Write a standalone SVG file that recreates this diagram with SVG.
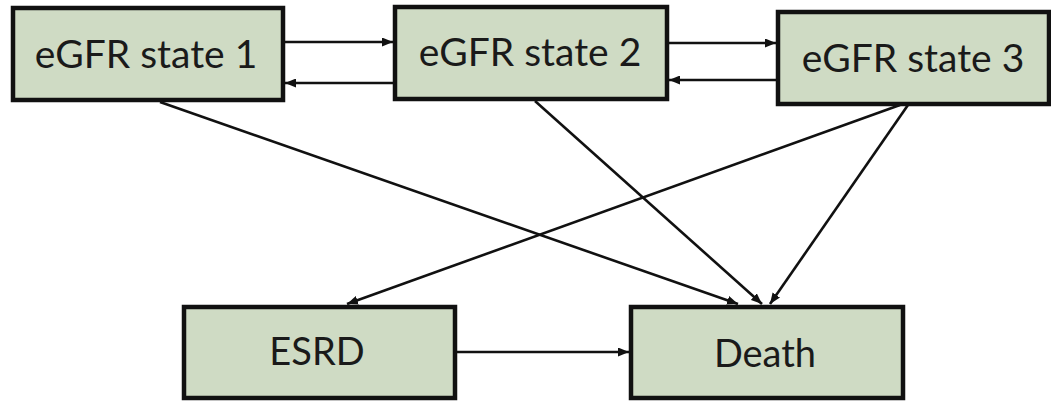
<svg xmlns="http://www.w3.org/2000/svg" width="1051" height="402" viewBox="0 0 1051 402">
<style>
.box{fill:#cfdbc4;stroke:#111;stroke-width:4.5}
.lbl{font-family:Lato,"Liberation Sans",sans-serif;font-size:39px;fill:#1a1a1a;text-anchor:middle}
.lbl2{font-family:Lato,"Liberation Sans",sans-serif;font-size:38px;fill:#1a1a1a;text-anchor:middle}
.edge{stroke:#111;stroke-width:2.6;fill:none;marker-end:url(#ah)}
</style>
<defs>
<marker id="ah" viewBox="0 0 11 9" refX="11" refY="4.5" markerWidth="11" markerHeight="9" markerUnits="userSpaceOnUse" orient="auto">
<path d="M0,0 L11,4.5 L0,9 Z" fill="#111"/>
</marker>
</defs>
<rect width="1051" height="402" fill="#fff"/>
<g id="connectors">
<line class="edge" x1="285" y1="42" x2="393" y2="42"/>
<line class="edge" x1="393" y1="83" x2="285" y2="83"/>
<line class="edge" x1="669" y1="43" x2="776" y2="43"/>
<line class="edge" x1="776" y1="80" x2="669" y2="80"/>
<line class="edge" x1="160" y1="102" x2="738" y2="304"/>
<line class="edge" x1="535" y1="101" x2="762" y2="304"/>
<line class="edge" x1="908" y1="105" x2="770" y2="304"/>
<line class="edge" x1="900" y1="105" x2="347" y2="304"/>
<line class="edge" x1="457" y1="352" x2="629" y2="352"/>
</g>
<g id="node-s1"><rect class="box" x="13" y="8" width="270" height="92"/><text class="lbl" x="146" y="68">eGFR state 1</text></g>
<g id="node-s2"><rect class="box" x="395" y="7" width="272" height="92"/><text class="lbl" x="530" y="66">eGFR state 2</text></g>
<g id="node-s3"><rect class="box" x="778" y="12" width="271" height="92"/><text class="lbl" x="913" y="72">eGFR state 3</text></g>
<g id="node-esrd"><rect class="box" x="184" y="307" width="271" height="91"/><text class="lbl2" x="317" y="365">ESRD</text></g>
<g id="node-death"><rect class="box" x="631" y="307" width="272" height="91"/><text class="lbl2" x="765" y="367">Death</text></g>
</svg>
